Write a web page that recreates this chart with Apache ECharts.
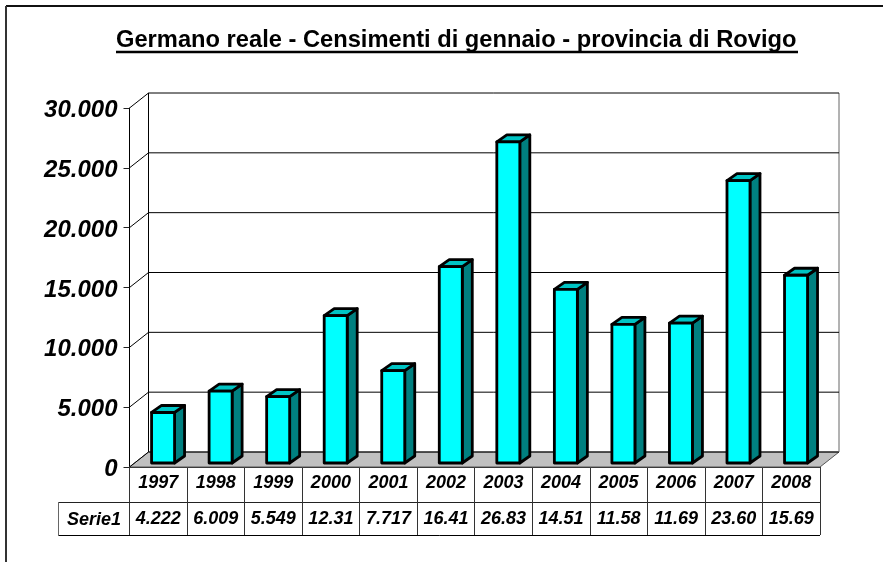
<!DOCTYPE html>
<html>
<head>
<meta charset="utf-8">
<style>html,body{margin:0;padding:0;background:#fff}#c{width:883px;height:562px}</style>
<script src="https://cdn.jsdelivr.net/npm/echarts@6/dist/echarts.min.js"></script>
</head>
<body>
<div id="c"></div>
<script>
const titleText = 'Germano reale - Censimenti di gennaio - provincia di Rovigo';
const seriesName = 'Serie1';
const years = ['1997','1998','1999','2000','2001','2002','2003','2004','2005','2006','2007','2008'];
const values = [4222,6009,5549,12310,7717,16410,26830,14510,11580,11690,23600,15690];
const tableLabels = ['4.222','6.009','5.549','12.31','7.717','16.41','26.83','14.51','11.58','11.69','23.60','15.69'];
const gridTicks = [0,5000,10000,15000,20000,25000,30000];

const FONT = '"Liberation Sans", Arial, sans-serif';
const WALL_DX = 19, WALL_DY = 15;
const BAR_DX = 10, BAR_DY = 7, BAR_SHIFT_X = 4.8, BAR_SHIFT_Y = -4;

const chart = echarts.init(document.getElementById('c'), null, {renderer:'canvas'});

function fmt(v){ return '{v|' + (v === 0 ? '0' : String(v).replace(/(\d)(\d{3})$/, '$1.$2')) + '}'; }

function renderWall(params, api){
  const cs = params.coordSys;
  const p = api.coord([0, api.value(1)]);
  const x0 = cs.x, y = p[1];
  const line = {stroke:'#000', lineWidth:1};
  const children = [
    {type:'line', shape:{x1:x0, y1:y, x2:x0+WALL_DX, y2:y-WALL_DY}, style:line},
    {type:'line', shape:{x1:x0+WALL_DX, y1:y-WALL_DY, x2:x0+cs.width+WALL_DX, y2:y-WALL_DY},
      style:{stroke:'#000', lineWidth:1}}
  ];
  if (params.dataIndex === 0) {
    const top = api.coord([0, gridTicks[gridTicks.length-1]])[1];
    children.unshift({type:'polygon', shape:{points:[
      [x0,y],[x0+WALL_DX,y-WALL_DY],[x0+cs.width+WALL_DX,y-WALL_DY],[x0+cs.width,y]
    ]}, style:{fill:'#c0c0c0', stroke:'#555', lineWidth:1}});
    children.push({type:'line', shape:{x1:x0+WALL_DX, y1:y-WALL_DY, x2:x0+WALL_DX, y2:top-WALL_DY}, style:line});
    children.push({type:'line', shape:{x1:x0+cs.width+WALL_DX, y1:y-WALL_DY, x2:x0+cs.width+WALL_DX, y2:top-WALL_DY},
      style:{stroke:'#666', lineWidth:1}});
  }
  return {type:'group', children};
}

function renderBar(params, api){
  const i = api.value(0), v = api.value(1);
  const base = api.coord([i, 0]), top = api.coord([i, v]);
  const w = 23;
  const l = base[0] + BAR_SHIFT_X - w/2, r = l + w;
  const b = base[1] + BAR_SHIFT_Y, t = top[1] + BAR_SHIFT_Y;
  const st = {stroke:'#000', lineWidth:2.8, lineJoin:'round'};
  return {type:'group', children:[
    {type:'polygon', shape:{points:[[r,b],[r+BAR_DX,b-BAR_DY],[r+BAR_DX,t-BAR_DY],[r,t]]},
      style:Object.assign({fill:'#008080'}, st)},
    {type:'polygon', shape:{points:[[l,t],[l+BAR_DX,t-BAR_DY],[r+BAR_DX,t-BAR_DY],[r,t]]},
      style:Object.assign({fill:'#00c4c4'}, st)},
    {type:'rect', shape:{x:l, y:t, width:w, height:b-t},
      style:Object.assign({fill:'#00ffff'}, st)}
  ]};
}

const tableStyle = {
  fontFamily:FONT, fontWeight:'bold', fontStyle:'italic', fontSize:18, color:'#000'
};

chart.setOption({
  animation:false,
  backgroundColor:'#fff',
  title:{
    text:titleText, left:116, top:28, padding:0,
    textStyle:{fontFamily:FONT, fontWeight:'bold', fontSize:23.7, color:'#000'}
  },
  grid:{left:129.5, right:63, top:108, bottom:95, containLabel:false},
  xAxis:[
    {type:'category', position:'bottom', data:years, boundaryGap:true,
      axisLine:{show:true, lineStyle:{color:'#222', width:1}},
      axisTick:{show:true, length:35, alignWithLabel:false, lineStyle:{color:'#333'}},
      axisLabel:Object.assign({interval:0, margin:7}, tableStyle),
      splitLine:{show:false}},
    {type:'category', position:'bottom', offset:35, data:tableLabels, boundaryGap:true,
      axisLine:{show:true, lineStyle:{color:'#222', width:1}},
      axisTick:{show:true, length:33, alignWithLabel:false, lineStyle:{color:'#333'}},
      axisLabel:Object.assign({interval:0, margin:8}, tableStyle),
      splitLine:{show:false}}
  ],
  yAxis:{
    type:'value', min:0, max:30000, interval:5000,
    axisLine:{show:true, lineStyle:{color:'#000', width:1}},
    axisTick:{show:true, length:6, lineStyle:{color:'#222'}},
    axisLabel:{formatter:fmt, margin:12, fontFamily:FONT, fontWeight:'bold', fontStyle:'italic', fontSize:24, color:'#000',
      rich:{v:{fontFamily:FONT, fontWeight:'bold', fontStyle:'italic', fontSize:24, color:'#000', padding:[5,0,0,0]}}},
    splitLine:{show:false}
  },
  series:[
    {type:'custom', name:'wall', silent:true, z:1, renderItem:renderWall, clip:false,
      encode:{x:0,y:1}, data:gridTicks.map(t=>[0,t])},
    {type:'custom', name:seriesName, z:3, renderItem:renderBar, clip:false,
      encode:{x:0,y:1}, data:values.map((v,i)=>[i,v])}
  ],
  graphic:[
    {type:'line', z:10, shape:{x1:116, y1:52, x2:798, y2:52}, style:{stroke:'#000', lineWidth:2.5}},
    {type:'line', z:10, shape:{x1:6, y1:6, x2:883, y2:6}, style:{stroke:'#111', lineWidth:2}},
    {type:'line', z:10, shape:{x1:6, y1:6, x2:6, y2:562}, style:{stroke:'#333', lineWidth:2}},
    {type:'line', z:10, shape:{x1:58.5, y1:502.5, x2:129.5, y2:502.5}, style:{stroke:'#222', lineWidth:1}},
    {type:'line', z:10, shape:{x1:58.5, y1:535.5, x2:820, y2:535.5}, style:{stroke:'#000', lineWidth:1}},
    {type:'line', z:10, shape:{x1:58.5, y1:502, x2:58.5, y2:536}, style:{stroke:'#666', lineWidth:1}},
    {type:'text', z:10, style:{text:seriesName, x:94, y:520, align:'center', verticalAlign:'middle',
      font:'italic bold 18px '+FONT, fill:'#000'}}
  ]
});
</script>
</body>
</html>
